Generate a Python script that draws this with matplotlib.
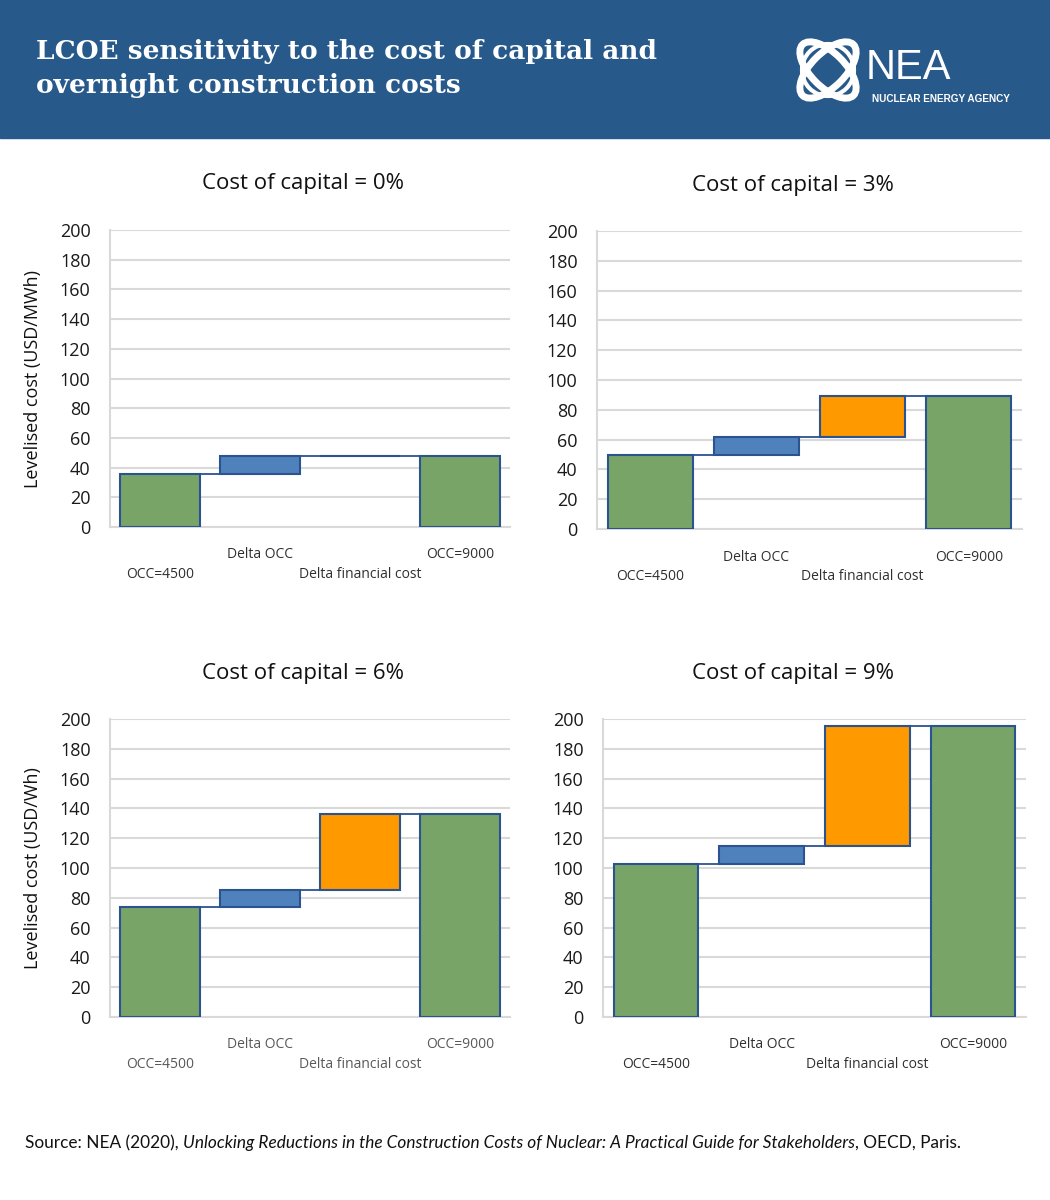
import matplotlib
matplotlib.use("Agg")
import matplotlib.pyplot as plt
from matplotlib.patches import Rectangle, Ellipse

# data (USD/MWh)
categories = ["OCC=4500", "Delta OCC", "Delta financial cost", "OCC=9000"]
capital_rates = ["0%", "3%", "6%", "9%"]
occ_4500 = [36, 50, 74, 103]
delta_occ = [11.5, 12, 11, 12]
delta_fin = [0.5, 27, 51, 80]
occ_9000 = [48, 89, 136, 195]
y_labels = ["Levelised cost (USD/MWh)", None, "Levelised cost (USD/Wh)", None]
y_ticks = list(range(0, 201, 20))

HEADER = "#27598A"
EDGE = "#2B5390"
GREEN = "#78A468"
BLUE = "#4F81BD"
ORANGE = "#FF9900"
GRID = "#D9D9D9"

W, H = 1050, 1200
fig = plt.figure(figsize=(W / 100, H / 100), dpi=100)
plt.rcParams['font.family'] = ['Open Sans', 'DejaVu Sans']

bg = fig.add_axes([0, 0, 1, 1])
bg.set_xlim(0, W)
bg.set_ylim(H, 0)
bg.set_axis_off()

# header band
bg.add_patch(Rectangle((0, 0), W, 138, color=HEADER, zorder=0))
bg.text(36, 51, "LCOE sensitivity to the cost of capital and", color="white",
        fontsize=19, fontweight="bold", family="DejaVu Serif", va="center")
bg.text(36, 86, "overnight construction costs", color="white",
        fontsize=19, fontweight="bold", family="DejaVu Serif", va="center")

# logo
bg.add_patch(Ellipse((828, 70), 72, 34, angle=45, fill=False, ec="white", lw=5))
bg.add_patch(Ellipse((828, 70), 72, 34, angle=-45, fill=False, ec="white", lw=5))
bg.add_patch(Ellipse((828, 70), 52, 52, fill=False, ec="white", lw=3))
bg.text(866, 68, "NEA", color="white", fontsize=30, family="Liberation Sans", va="center")
bg.text(872, 99, "NUCLEAR ENERGY AGENCY", color="white", fontsize=7.2,
        family="Liberation Sans", fontweight="bold", va="center")

# panels: left, top, right, bottom in pixels
boxes = [(110, 230, 510, 527), (597, 231, 1022, 529),
         (110, 719, 510, 1017), (603, 719, 1026, 1017)]
title_pos = [(303, 183), (793, 186), (303, 674), (793, 674)]
label_col = ["#303030", "#303030", "#595959", "#303030"]

for k, (l, t, r, b) in enumerate(boxes):
    ax = fig.add_axes([l / W, 1 - b / H, (r - l) / W, (b - t) / H])
    base = occ_4500[k]
    after_occ = base + delta_occ[k]
    after_fin = after_occ + delta_fin[k]
    bottoms = [0, base, after_occ, 0]
    heights = [base, delta_occ[k], delta_fin[k], occ_9000[k]]
    colors = [GREEN, BLUE, ORANGE, GREEN]
    x = list(range(len(categories)))
    ax.bar(x, heights, bottom=bottoms, width=0.8, color=colors,
           edgecolor=EDGE, linewidth=1.5, zorder=3)
    levels = [base, after_occ, after_fin]
    for i, lev in enumerate(levels):
        ax.plot([i + 0.4, i + 0.6], [lev, lev], color=EDGE, lw=1.3, zorder=3)

    ax.set_xlim(-0.5, 3.5)
    ax.set_ylim(0, 200)
    ax.set_yticks(y_ticks)
    ax.tick_params(axis="y", length=0, labelsize=13, pad=14, labelcolor="#1a1a1a")
    ax.set_xticks([])
    ax.grid(axis="y", color=GRID, lw=1.5, zorder=0)
    for s in ["top", "right"]:
        ax.spines[s].set_visible(False)
    for s in ["left", "bottom"]:
        ax.spines[s].set_color(GRID)
        ax.spines[s].set_linewidth(1.5)

    for i, cat in enumerate(categories):
        off = -28 if i % 2 else -47
        ax.annotate(cat, xy=(i, 0), xycoords=("data", "axes fraction"),
                    xytext=(0, off), textcoords="offset pixels",
                    ha="center", va="center", fontsize=10, color=label_col[k])

    tx, ty = title_pos[k]
    bg.text(tx, ty, "Cost of capital = " + capital_rates[k], fontsize=16,
            ha="center", va="center", color="#111111")
    if y_labels[k]:
        bg.text(33, (t + b) / 2, y_labels[k], rotation=90, fontsize=13,
                ha="center", va="center", color="#111111")

# source line, regular + italic pieces
fig.canvas.draw()
renderer = fig.canvas.get_renderer()
pieces = [("Source: NEA (2020), ", "normal"),
          ("Unlocking Reductions in the Construction Costs of Nuclear: A Practical Guide for Stakeholders", "italic"),
          (", OECD, Paris.", "normal")]
xpos = 25
for txt, style in pieces:
    t_obj = bg.text(xpos, 1143, txt, fontsize=12.4, style=style, family="Lato",
                    va="center", ha="left", color="#111111")
    ext = t_obj.get_window_extent(renderer=renderer)
    xpos += ext.width

fig.savefig("out.png", dpi=100)
